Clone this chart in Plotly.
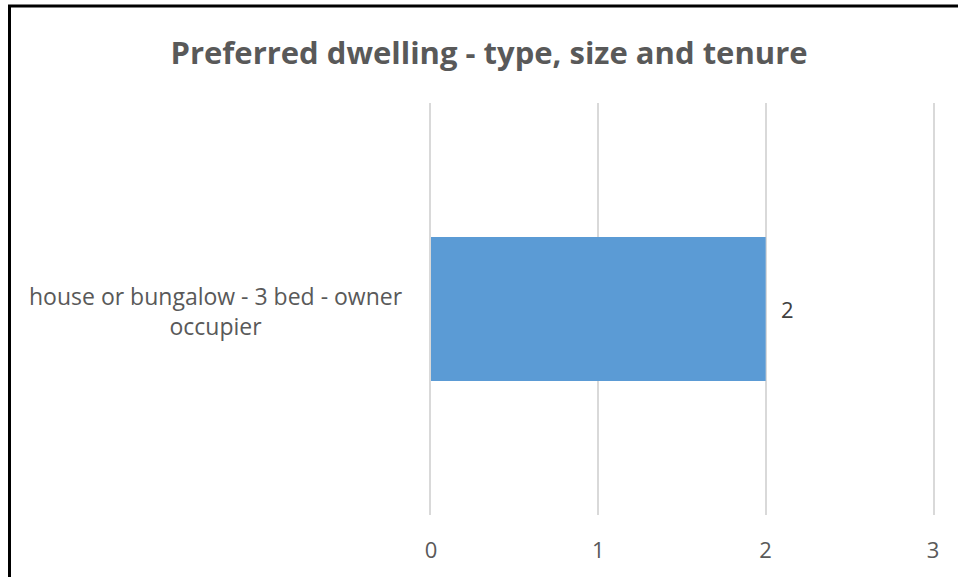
import plotly.graph_objects as go

categories = ["house or bungalow - 3 bed - owner<br>occupier"]
values = [2]
x_ticks = [0, 1, 2, 3]
title_text = "Preferred dwelling - type, size and tenure"

W, H = 958, 577
L, R, T, B = 431, 25, 103, 62
pw, ph = W - L - R, H - T - B
GRID = "#D9D9D9"
TXT = "#595959"

fig = go.Figure()
fig.add_trace(go.Bar(
    y=categories, x=values, orientation="h",
    marker=dict(color="#5B9BD5", line=dict(width=0)),
    hoverinfo="x+y",
))

for c, v in zip(categories, values):
    fig.add_annotation(x=v, y=c, xref="x", yref="y", text=str(v), showarrow=False,
                       xanchor="left", xshift=13, yshift=0,
                       font=dict(family="Open Sans", size=22, color="#404040"))
    fig.add_annotation(x=(216 - L) / pw, y=c, xref="paper", yref="y",
                       text=c, showarrow=False, xanchor="center", align="center",
                       yshift=-2,
                       font=dict(family="Open Sans", size=23, color=TXT))

# chart frame (left and top borders visible in the reference crop)
fig.add_shape(type="rect", xref="paper", yref="paper",
              x0=(9.5 - L) / pw, x1=(W + 10 - L) / pw,
              y0=(H - B - (H + 10)) / ph, y1=(H - B - 6) / ph,
              line=dict(color="black", width=3), fillcolor="rgba(0,0,0,0)", layer="above")

fig.update_layout(
    width=W, height=H,
    margin=dict(l=L, r=R, t=T, b=B, autoexpand=False),
    paper_bgcolor="white", plot_bgcolor="white",
    bargap=0.65,
    showlegend=False,
    title=dict(text=f"<b>{title_text}</b>", x=489 / W, xanchor="center",
               y=1 - 53 / H, yanchor="middle", yref="container",
               font=dict(family="Open Sans", size=31, color=TXT)),
    xaxis=dict(range=[0, 3], tickvals=x_ticks, showgrid=True, gridcolor=GRID,
               gridwidth=1.5, zeroline=False, showline=False, ticks="",
               ticklabelstandoff=20,
               tickfont=dict(family="Open Sans", size=22, color=TXT)),
    yaxis=dict(showticklabels=False, showgrid=False, zeroline=False,
               showline=True, mirror=True, linecolor=GRID, linewidth=1.5,
               ticks=""),
)

fig.write_html("out.html", config={"displayModeBar": False},
               post_script="document.body.style.margin='0';")
